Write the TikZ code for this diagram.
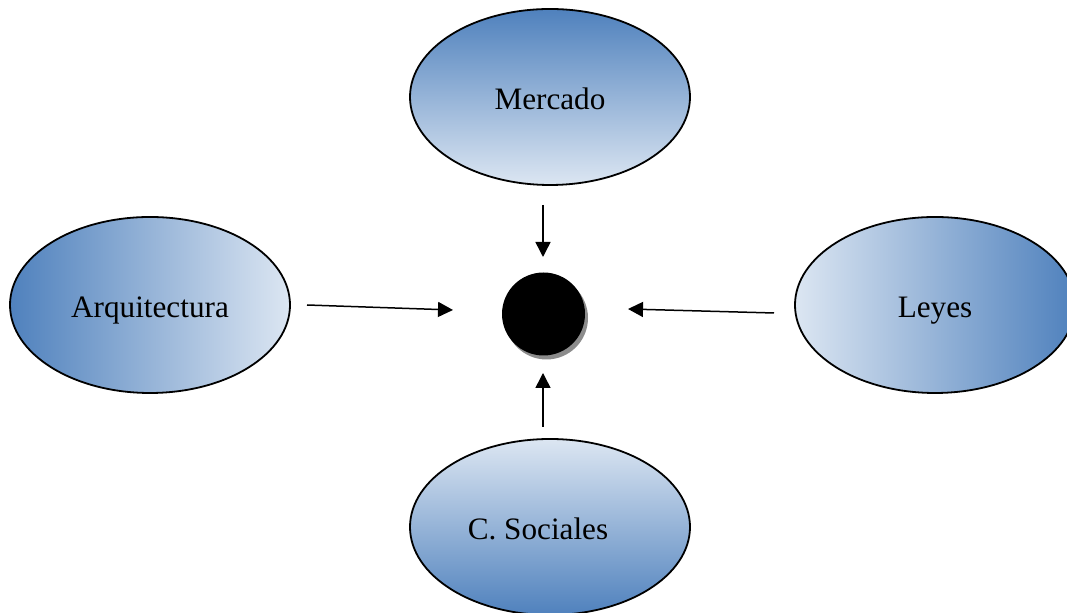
\documentclass[tikz,border=0pt]{standalone}
\usepackage{fontspec}
\setmainfont{Liberation Serif}
\usetikzlibrary{arrows.meta,shapes.geometric,positioning,shadows}
\definecolor{ofBlue}{HTML}{4F81BD}
\definecolor{ofPale}{HTML}{DCE6F2}
\tikzset{
  topic/.style={ellipse,draw=black,line width=0.9pt,minimum width=140pt,
                minimum height=88pt,inner sep=0pt,text height=13pt,text depth=0pt,
                font=\fontsize{15.6}{18}\selectfont},
  flow/.style={->,line width=0.75pt}
}

\begin{document}
\begin{tikzpicture}[x=0.5pt,y=-0.5pt,>={Triangle[length=7.5pt,width=7.5pt]},line join=round]
    \useasboundingbox (0,0) rectangle (1067,613);
    \clip (0,0) rectangle (1067,613);
    % four factors round the centre
    \node[topic,top color=ofBlue,bottom color=ofPale] (merc) at (550,97) {Mercado};
    \node[topic,left color=ofBlue,right color=ofPale] (arq) at (150,305) {Arquitectura};
    \node[topic,left color=ofPale,right color=ofBlue] (ley) at (935,305) {Leyes};
    \node[topic,top color=ofPale,bottom color=ofBlue] (soc) at (550,527)
         {C. Sociales\hspace*{12pt}};
    % centre point with its flat shadow
    \node[circle,fill=black,minimum size=41.5pt,inner sep=0pt,
          general shadow={fill=gray!90,shadow xshift=1.5pt,shadow yshift=-2pt}]
          (dot) at (543.5,314) {};
    % arrow ends (they stop short of the shapes)
    \coordinate (mercS) at (543,205);  \coordinate (mercE) at (543,257);
    \coordinate (socS)  at (543,427);  \coordinate (socE)  at (543,373);
    \coordinate (arqS)  at (307,305);  \coordinate (arqE)  at (453,310);
    \coordinate (leyS)  at (774,313);  \coordinate (leyE)  at (628,309);
    \draw[flow] (mercS) -- (mercE);
    \draw[flow] (socS) -- (socE);
    \draw[flow] (arqS) -- (arqE);
    \draw[flow] (leyS) -- (leyE);
  \end{tikzpicture}
\end{document}
